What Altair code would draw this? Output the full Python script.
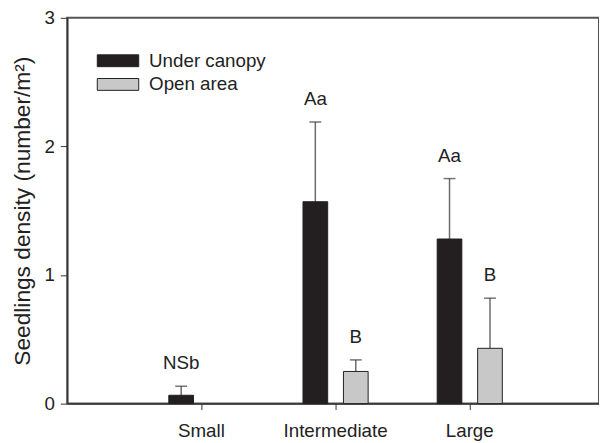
import altair as alt
import pandas as pd

categories = ["Small", "Intermediate", "Large"]
groups = ["Under canopy", "Open area"]
under_mean = [0.065, 1.57, 1.28]
under_se = [0.07, 0.62, 0.47]
under_labels = ["NSb", "Aa", "Aa"]
open_mean = [0.0, 0.25, 0.43]
open_se = [None, 0.09, 0.39]
open_labels = [None, "B", "B"]
colors = ["#231f20", "#c8c8c8"]

rows = []
for i, c in enumerate(categories):
    for g, m, s, l in ((groups[0], under_mean[i], under_se[i], under_labels[i]),
                       (groups[1], open_mean[i], open_se[i], open_labels[i])):
        rows.append({"category": c, "group": g, "mean": m, "se": s,
                     "top": (m + s) if s is not None else None, "label": l})
df = pd.DataFrame(rows)

FONT = "Arial, Liberation Sans, sans-serif"

x_enc = alt.X("category:N", sort=categories,
              scale=alt.Scale(domain=categories, range=[0, 544], paddingInner=0, paddingOuter=0.5),
              axis=alt.Axis(title=None, labelAngle=0, tickSize=6, labelPadding=12,
                            labelFontSize=19, labelFont=FONT, labelColor="#222",
                            domainColor="#333", tickColor="#333", domainWidth=1.5, tickWidth=1))
xo_enc = alt.XOffset("group:N", sort=groups,
                     scale=alt.Scale(domain=groups, paddingInner=0.39, paddingOuter=0.853))
y_scale = alt.Scale(domain=[0, 3], nice=False)
y_axis = alt.Axis(values=[0, 1, 2, 3], format="d", grid=False, tickSize=7, labelPadding=6,
                  labelFontSize=19, labelFont=FONT, labelColor="#222",
                  domainColor="#333", tickColor="#333", domainWidth=1.5, tickWidth=1,
                  title="Seedlings density (number/m²)", titleFontSize=23, titleFont=FONT,
                  titleFontWeight="normal", titleColor="#222", titlePadding=10)

base = alt.Chart(df)

bars = base.transform_filter(alt.datum.mean > 0).mark_bar(
    stroke="#231f20", strokeWidth=1).encode(
    x=x_enc, xOffset=xo_enc,
    y=alt.Y("mean:Q", scale=y_scale, axis=y_axis),
    color=alt.Color("group:N", sort=groups,
                    scale=alt.Scale(domain=groups, range=colors),
                    legend=alt.Legend(title=None, orient="none", legendX=42, legendY=34,
                                      symbolType="M-3.5,-1H3.5V1H-3.5Z", symbolSize=144,
                                      symbolStrokeColor="#231f20", symbolStrokeWidth=1,
                                      symbolOpacity=1, labelFontSize=19, labelFont=FONT,
                                      labelColor="#222", labelOffset=22, rowPadding=4)),
)

err = base.transform_filter(alt.datum.top != None).mark_rule(
    color="#6a6a6a", strokeWidth=1.5).encode(
    x=x_enc, xOffset=xo_enc, y=alt.Y("mean:Q", scale=y_scale), y2="top:Q")

caps = base.transform_filter(alt.datum.top != None).mark_tick(
    color="#3a3a3a", size=12, thickness=1.5).encode(
    x=x_enc, xOffset=xo_enc, y=alt.Y("top:Q", scale=y_scale))

labels = base.transform_filter(alt.datum.label != None).mark_text(
    baseline="alphabetic", dy=-17, fontSize=19, font=FONT, color="#222").encode(
    x=x_enc, xOffset=xo_enc, y=alt.Y("top:Q", scale=y_scale), text="label:N")

chart = alt.layer(err, bars, caps, labels).properties(
    width=539, height=391,
    autosize=alt.AutoSizeParams(type="none"),
    padding={"left": 60, "top": 7, "right": 0, "bottom": 40},
).configure_view(stroke="#555", strokeWidth=2)

chart.save("out.html", embed_options={"renderer": "svg", "actions": False})
